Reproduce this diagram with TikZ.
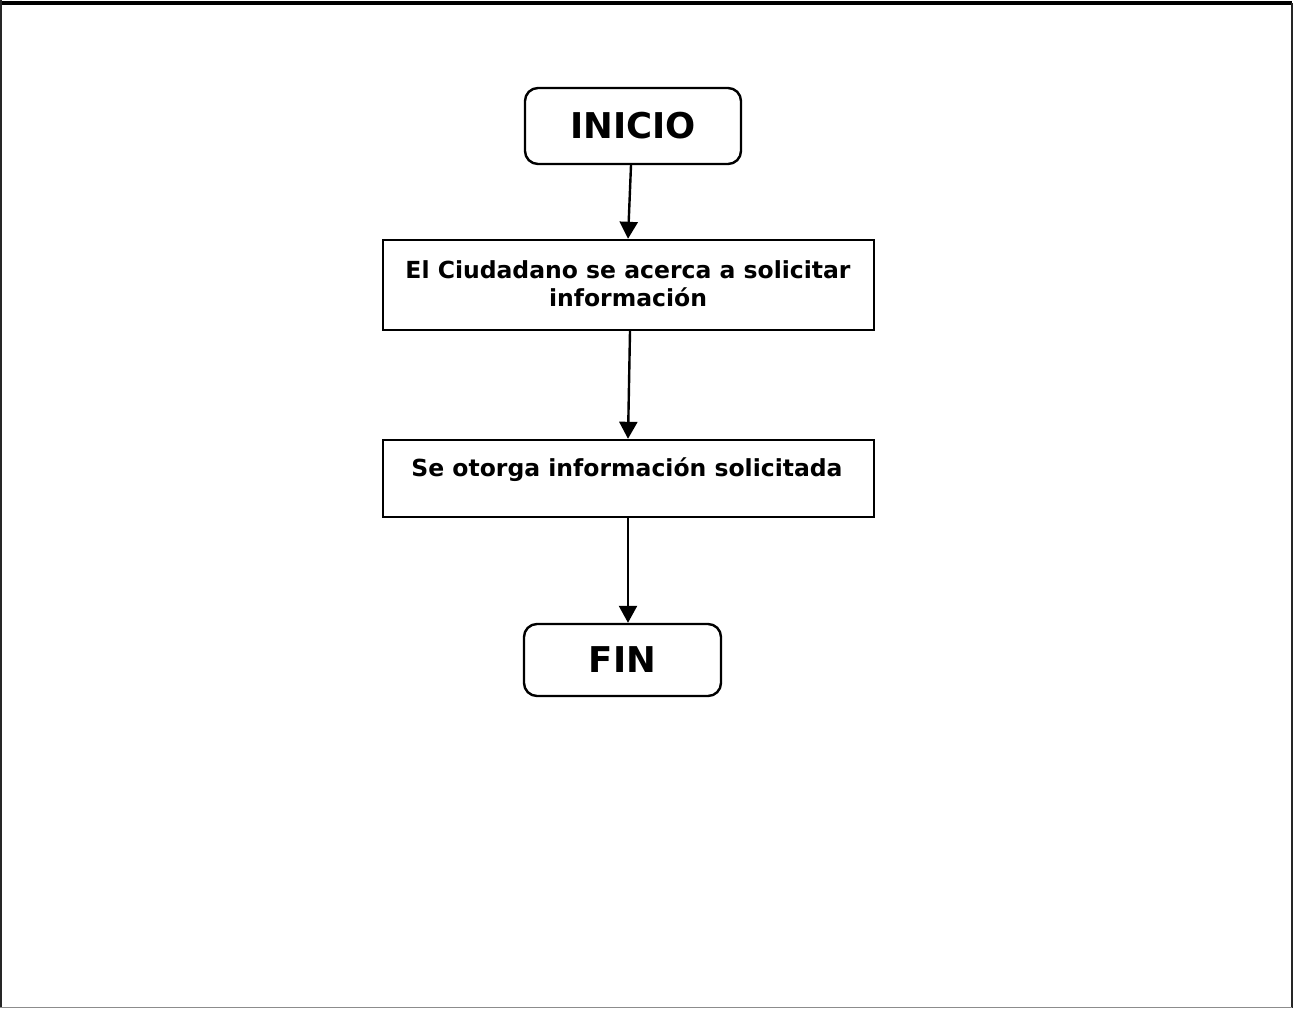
\documentclass[tikz,border=0pt]{standalone}
\usepackage{fontspec}
\setmainfont{DejaVu Sans}
\usetikzlibrary{arrows.meta,calc}
\begin{document}
\begin{tikzpicture}[x=1pt,y=-1pt,
  terminal/.style={draw=black,line width=2.4pt,rounded corners=13pt,font=\bfseries\fontsize{35.5}{38}\selectfont,inner sep=0pt},
  process/.style={draw=black,line width=2.4pt,inner sep=0pt},
  boxtext/.style={font=\bfseries\fontsize{23.5}{28}\selectfont,inner sep=0pt,align=center},
  flow/.style={line width=2.4pt,-{Triangle[width=18pt,length=17pt]}}]
% page
\useasboundingbox (0,0) rectangle (1295,1009);
\fill[white] (0,0) rectangle (1295,1009);
% outer frame
\draw[line width=3.5pt] (0,3) -- (1292,3);
\draw[line width=2.5pt,black!85] (1,0) -- (1,1008);
\draw[line width=2.5pt,black!85] (1292,3) -- (1292,1008);
\draw[line width=1.2pt,black!45] (0,1007.5) -- (1292,1007.5);
% nodes
\node[terminal,minimum width=216pt,minimum height=76pt] (inicio) at (633,126) {INICIO};
\node[process,minimum width=491pt,minimum height=90pt] (paso1) at (628.5,285) {};
\node[boxtext] (t1) at (628,284) {El Ciudadano se acerca a solicitar\\información};
\node[process,minimum width=491pt,minimum height=77pt] (paso2) at (628.5,478.5) {};
\node[boxtext] (t2) at (627,470) {Se otorga información solicitada};
\node[terminal,minimum width=197pt,minimum height=72pt] (fin) at (622.5,660) {FIN};
% connectors
\draw[flow] ($(inicio.south)+(-2,0)$) -- ($(paso1.north)+(-0.5,0)$);
\draw[flow] ($(paso1.south)+(1.5,0)$) -- ($(paso2.north)+(-0.5,0)$);
\draw[flow] ($(paso2.south)+(-0.5,0)$) -- ($(fin.north)+(5.5,0)$);
\end{tikzpicture}
\end{document}
